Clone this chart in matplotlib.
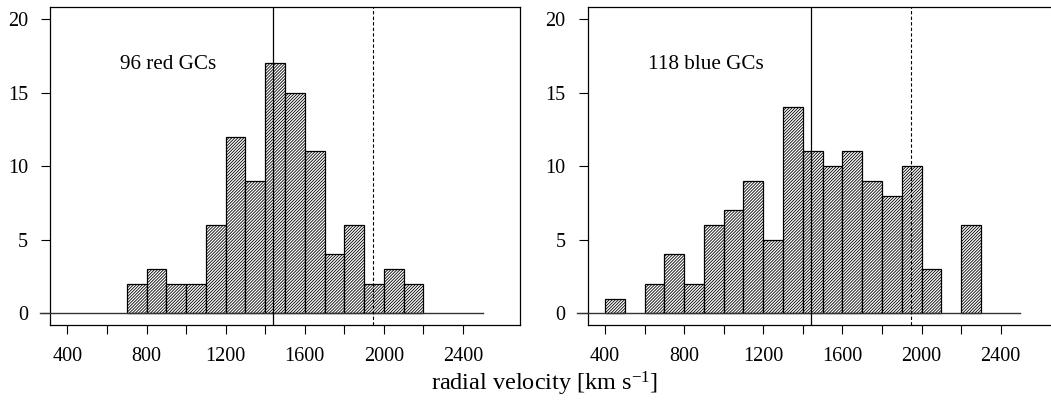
import numpy as np
import matplotlib
matplotlib.use("Agg")
import matplotlib.pyplot as plt

plt.rcParams['font.family'] = ['Liberation Serif', 'DejaVu Serif']
plt.rcParams['mathtext.fontset'] = 'custom'
plt.rcParams['mathtext.rm'] = 'Liberation Serif'
plt.rcParams['mathtext.it'] = 'Liberation Serif:italic'
plt.rcParams['hatch.linewidth'] = 0.6
plt.rcParams['hatch.color'] = '#222222'

# Data
bin_edges = list(range(400, 2400, 100))  # left edges of 100 km/s bins
red_counts = [0, 0, 0, 2, 3, 2, 2, 6, 12, 9, 17, 15, 11, 4, 6, 2, 3, 2, 0, 0]
blue_counts = [1, 0, 2, 4, 2, 6, 7, 9, 5, 14, 11, 10, 11, 9, 8, 10, 3, 0, 6, 0]
labels = ["96 red GCs", "118 blue GCs"]
label_pos = [(665, 16.9), (618, 16.9)]
v_ngc1399 = 1441
v_ngc1404 = 1947
xticks = list(range(400, 2600, 200))
yticks = [0, 5, 10, 15, 20]

fig = plt.figure(figsize=(10.51, 4.0), dpi=100)
W, H = 1051, 400
ax_boxes = [(50, 7.4, 520, 325), (587.6, 7.4, 1057.6, 325)]

for (x0, y0, x1, y1), counts, lab, lpos in zip(ax_boxes, [red_counts, blue_counts], labels, label_pos):
    ax = fig.add_axes([x0 / W, 1 - y1 / H, (x1 - x0) / W, (y1 - y0) / H])
    ax.set_xlim(312, 2688)
    ax.set_ylim(-0.8, 20.8)
    for e, c in zip(bin_edges, counts):
        if c > 0:
            ax.bar(e, c, width=100, align='edge', facecolor='white',
                   edgecolor='black', linewidth=0.9, hatch='/' * 11, zorder=2)
    ax.plot([260, 2500], [0, 0], color='#333333', lw=1.0, zorder=3, clip_on=False)
    ax.axvline(v_ngc1399, color='black', lw=0.9, zorder=4)
    ax.axvline(v_ngc1404, color='black', lw=0.8, ls=(0, (3, 2)), zorder=4)
    ax.text(lpos[0], lpos[1], lab, fontsize=15.2, va='center', ha='left')
    ax.set_xticks(xticks)
    ax.set_xticklabels([str(t) if t % 400 == 0 else '' for t in xticks])
    ax.set_yticks(yticks)
    ax.tick_params(direction='out', length=6.8, width=0.8, labelsize=14.5)
    ax.tick_params(axis='x', pad=9)
    ax.tick_params(axis='y', pad=9)
    for s in ax.spines.values():
        s.set_linewidth(0.9)

fig.text(545 / W, 1 - 384 / H, r'radial velocity [km s$^{-1}$]', ha='center', va='center', fontsize=17.5)

fig.savefig('out.png', dpi=100)
